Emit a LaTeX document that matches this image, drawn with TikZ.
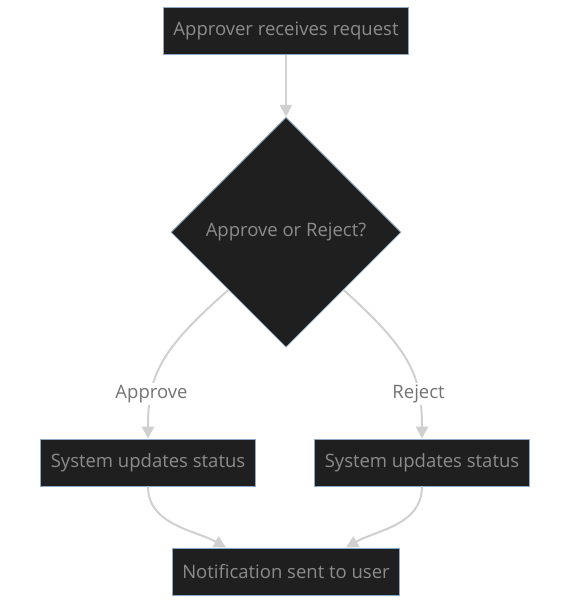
\documentclass[tikz,border=0pt]{standalone}
\usepackage{fontspec}
\setmainfont{Open Sans}
\usepackage{tikz}
\usetikzlibrary{shapes.geometric, arrows.meta, positioning}
\definecolor{boxfill}{RGB}{31, 31, 31}
\definecolor{boxline}{RGB}{140, 170, 200}
\definecolor{boxtext}{RGB}{140, 140, 140}
\definecolor{edgegray}{RGB}{208, 208, 208}
\definecolor{labeltext}{RGB}{115, 115, 115}

\begin{document}
\begin{tikzpicture}[
    x=1pt, y=-1pt,
    every node/.style={font=\fontsize{18.5}{22}\selectfont, align=center},
    box/.style={draw=boxline, fill=boxfill, text=boxtext, minimum height=47pt, inner xsep=10pt, line width=0.8pt},
    choice/.style={draw=boxline, fill=boxfill, text=boxtext, diamond, aspect=1, minimum size=230pt, inner sep=0pt, line width=0.8pt},
    arr/.style={-{Triangle[length=12pt, width=12pt]}, line width=2pt, color=edgegray},
    lbl/.style={fill=white, text=labeltext, inner sep=2pt}
]
\useasboundingbox (0,0) rectangle (570,606);

% Request and decision
\node[box] (req) at (286,31) {Approver receives request};
\node[choice, below=62pt of req] (dec) {Approve or Reject?};

% Both outcomes
\node[box, below=91pt of dec, xshift=-138pt] (sysA) {System updates status};
\node[box, below=91pt of dec, xshift=136pt] (sysR) {System updates status};
\node[box, below=61pt of sysA, xshift=138pt] (note) {Notification sent to user};

% Connectors
\draw[arr] (req) -- (dec);
\draw[arr] (dec.south west) .. controls (160,350) and (148,375) .. node[lbl, pos=0.73]{Approve} (sysA.north);
\draw[arr] (dec.south east) .. controls (410,350) and (422,375) .. node[lbl, pos=0.73]{Reject} (sysR.north);
\draw[arr] (sysA.south) .. controls (148,525) and (195,530) .. ([xshift=-60pt]note.north);
\draw[arr] (sysR.south) .. controls (422,525) and (377,530) .. ([xshift=60pt]note.north);

\end{tikzpicture}
\end{document}
